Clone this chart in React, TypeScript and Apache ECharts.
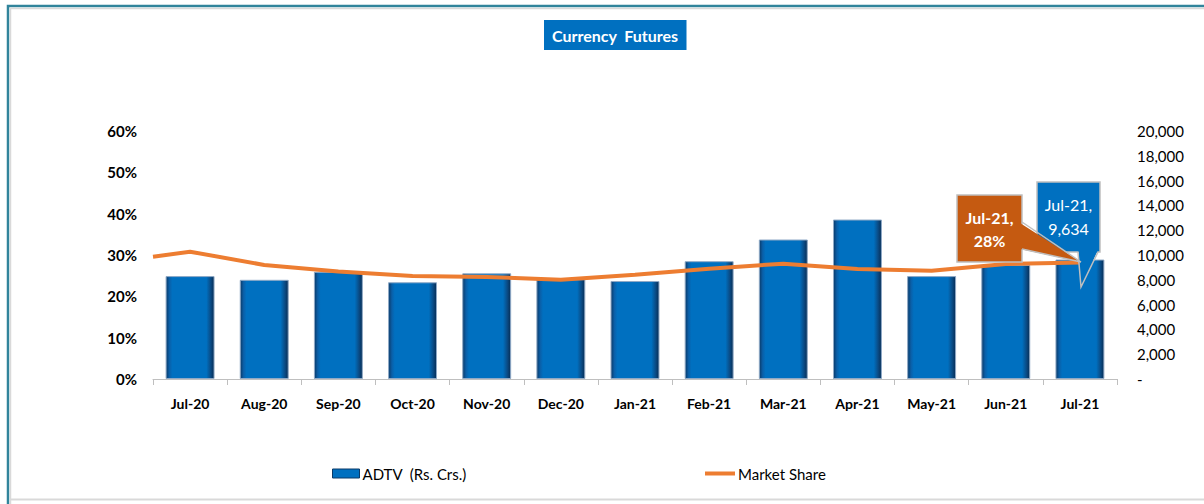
import React, { useEffect, useRef } from "react";
import * as echarts from "echarts";

const months = ["Jul-20", "Aug-20", "Sep-20", "Oct-20", "Nov-20", "Dec-20", "Jan-21", "Feb-21", "Mar-21", "Apr-21", "May-21", "Jun-21", "Jul-21"];
const adtv = [8300, 8000, 8650, 7800, 8520, 8050, 7900, 9500, 11250, 12860, 8300, 9200, 9634];
const marketShare = [30.8, 27.6, 26.0, 24.9, 24.7, 24.0, 25.2, 26.7, 27.9, 26.6, 26.2, 27.8, 28.2];
const lineStartShare = 29.6;
const leftTicks = { min: 0, max: 60, interval: 10 };
const rightTicks = { min: 0, max: 20000, interval: 2000 };

const FONT = "Lato";

export default function App() {
  const ref = useRef<HTMLDivElement>(null);
  useEffect(() => {
    if (!ref.current) return;
    const chart = echarts.init(ref.current, undefined, { renderer: "svg" });
    const last = months.length - 1;
    const lineData: number[][] = [[-0.5, lineStartShare]].concat(marketShare.map((v, i) => [i, v]));
    const barColor = new echarts.graphic.LinearGradient(0, 0, 1, 0, [
      { offset: 0, color: "#0a3a68" },
      { offset: 0.07, color: "#0a5fa8" },
      { offset: 0.13, color: "#0070C0" },
      { offset: 0.84, color: "#0070C0" },
      { offset: 0.93, color: "#0a4b85" },
      { offset: 1, color: "#062d55" },
    ]);
    const orangeText = `${months[last]},\n${Math.round(marketShare[last])}%`;
    const blueText = `${months[last]},\n${adtv[last].toLocaleString("en-US")}`;
    chart.setOption({
      animation: false,
      textStyle: { fontFamily: FONT },
      title: {
        text: "Currency  Futures",
        left: 544,
        top: 20,
        padding: [7, 8, 7, 8],
        backgroundColor: "#0070C0",
        textStyle: { color: "#fff", fontSize: 16, fontWeight: "bold", fontFamily: FONT },
      },
      legend: [
        {
          data: [{ name: "ADTV  (Rs. Crs.)", itemStyle: { color: "#0070C0", borderColor: "#0a3a68", borderWidth: 1 } }],
          left: 332,
          top: 466,
          padding: 0,
          icon: "rect",
          itemWidth: 27,
          itemHeight: 9,
          itemGap: 3,
          textStyle: { fontSize: 15, color: "#000", fontFamily: FONT, padding: [0, 0, 0, -2] },
        },
        {
          data: ["Market Share"],
          left: 705,
          top: 466,
          padding: 0,
          icon: "rect",
          itemWidth: 30,
          itemHeight: 4,
          textStyle: { fontSize: 15, color: "#000", fontFamily: FONT, padding: [0, 0, 0, -2] },
        },
      ],
      grid: { left: 153, right: 87, top: 131, bottom: 125 },
      xAxis: [
        {
          type: "category",
          data: months,
          axisLine: { lineStyle: { color: "#bfbfbf", width: 1 } },
          axisTick: { show: true, length: 6, lineStyle: { color: "#bfbfbf" } },
          axisLabel: { color: "#000", fontSize: 14, fontWeight: "bold", margin: 17, fontFamily: FONT },
        },
        { type: "value", min: -0.5, max: 12.5, show: false },
      ],
      yAxis: [
        {
          type: "value",
          ...leftTicks,
          axisLine: { show: false },
          axisTick: { show: false },
          splitLine: { show: false },
          axisLabel: { color: "#000", fontSize: 15, fontWeight: "bold", margin: 16, formatter: "{value}%", fontFamily: FONT },
        },
        {
          type: "value",
          ...rightTicks,
          position: "right",
          axisLine: { show: false },
          axisTick: { show: false },
          splitLine: { show: false },
          axisLabel: {
            color: "#000",
            fontSize: 15,
            margin: 20,
            fontFamily: FONT,
            formatter: (v: number) => (v === 0 ? "-" : v.toLocaleString("en-US")),
          },
        },
      ],
      series: [
        {
          name: "ADTV  (Rs. Crs.)",
          type: "bar",
          xAxisIndex: 0,
          yAxisIndex: 1,
          data: adtv,
          barWidth: "66%",
          itemStyle: { color: barColor, borderColor: "#8fa9c6", borderWidth: 1 },
          z: 2,
        },
        {
          name: "Market Share",
          type: "line",
          xAxisIndex: 1,
          yAxisIndex: 0,
          data: lineData,
          showSymbol: false,
          symbol: "none",
          itemStyle: { color: "#ED7D31" },
          lineStyle: { color: "#ED7D31", width: 4 },
          z: 3,
        },
      ],
      graphic: [
        // outer border
        { type: "polyline", z: 100, shape: { points: [[8, 504], [8, 6], [1204, 6]] }, style: { stroke: "#31849B", lineWidth: 2.5, fill: null } },
        { type: "polyline", z: 100, shape: { points: [[10.5, 504], [10.5, 8.5], [1204, 8.5]] }, style: { stroke: "#d9d9d9", lineWidth: 1.5, fill: null } },
        { type: "line", z: 100, shape: { x1: 10, y1: 499.5, x2: 1204, y2: 499.5 }, style: { stroke: "#d9d9d9", lineWidth: 2 } },
        // blue callout
        { type: "rect", z: 110, shape: { x: 1037, y: 182, width: 63, height: 70 }, style: { fill: "#0070C0", stroke: "#bfbfbf", lineWidth: 1.5 } },
        { type: "polygon", z: 111, shape: { points: [[1078.5, 250], [1098, 250], [1081, 287]] }, style: { fill: "#0070C0" } },
        { type: "polyline", z: 112, shape: { points: [[1078, 252], [1081, 287], [1098, 252]] }, style: { stroke: "#bfbfbf", lineWidth: 1.5, fill: null } },
        {
          type: "text", z: 113, x: 1068.5, y: 216,
          style: { text: blueText, fill: "#fff", fontSize: 16, fontFamily: FONT, align: "center", verticalAlign: "middle", lineHeight: 24 },
        },
        // orange callout
        { type: "rect", z: 120, shape: { x: 957, y: 195, width: 65, height: 67 }, style: { fill: "#C55A11", stroke: "#bfbfbf", lineWidth: 1.5 } },
        { type: "polygon", z: 121, shape: { points: [[1020, 223], [1020, 249], [1081, 262]] }, style: { fill: "#C55A11" } },
        { type: "polyline", z: 122, shape: { points: [[1022, 222], [1081, 262], [1022, 249]] }, style: { stroke: "#bfbfbf", lineWidth: 1.5, fill: null } },
        {
          type: "text", z: 123, x: 989.5, y: 229,
          style: { text: orangeText, fill: "#fff", fontSize: 16, fontWeight: "bold", fontFamily: FONT, align: "center", verticalAlign: "middle", lineHeight: 23 },
        },
      ],
    });
    return () => chart.dispose();
  }, []);
  return <div ref={ref} style={{ position: "absolute", left: 0, top: 0, width: 1204, height: 504 }} />;
}
